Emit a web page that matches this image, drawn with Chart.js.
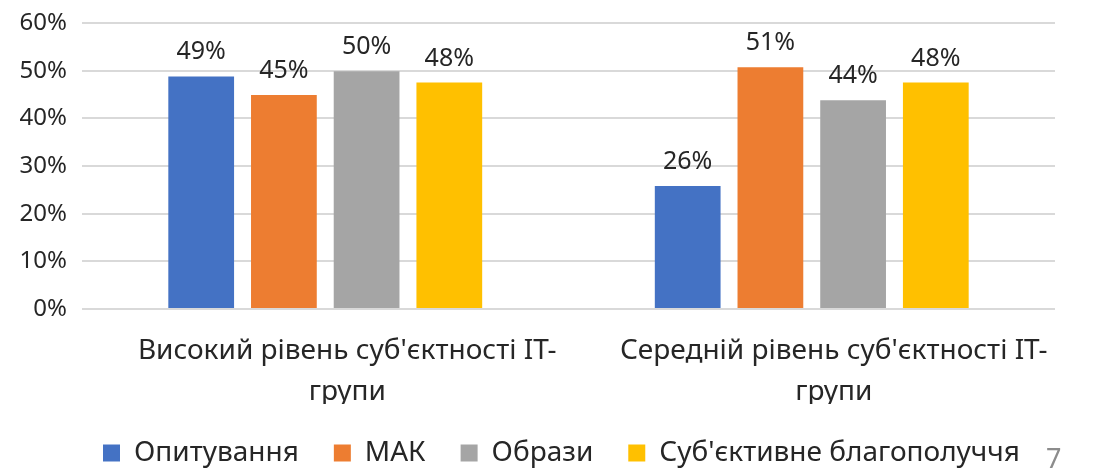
<!DOCTYPE html>
<html>
<head>
<meta charset="utf-8">
<script src="https://cdn.jsdelivr.net/npm/chart.js@4"></script>
<style>
  html, body { margin: 0; padding: 0; background: #fff; }
  #wrap { position: relative; width: 1105px; height: 469px; overflow: hidden; }
  #pageNum { position: absolute; left: 1046px; top: 439px; font: 27px "Noto Sans", sans-serif; color: #8c8c8c; }
</style>
</head>
<body>
<div id="wrap">
  <canvas id="myChart" width="1105" height="469"></canvas>
  <span id="pageNum">7</span>
</div>
<script>
const categories = [
  ["Високий рівень суб'єктності IT-", "групи"],
  ["Середній рівень суб'єктності IT-", "групи"],
];
const seriesNames = ["Опитування", "МАК", "Образи", "Суб'єктивне благополуччя"];
const surveyValues = [48.8, 25.8];
const makValues = [44.9, 50.7];
const imageValues = [49.9, 43.8];
const wellbeingValues = [47.5, 47.5];
const colors = ["#4472C4", "#ED7D31", "#A5A5A5", "#FFC000"];

const FONT = '"Noto Sans", sans-serif';

// values above the bars
const barLabels = {
  id: 'barLabels',
  afterDatasetsDraw(chart) {
    const ctx = chart.ctx;
    ctx.save();
    ctx.font = '25px ' + FONT;
    ctx.fillStyle = '#262626';
    ctx.textAlign = 'center';
    ctx.textBaseline = 'alphabetic';
    chart.data.datasets.forEach((ds, i) => {
      chart.getDatasetMeta(i).data.forEach((bar, j) => {
        ctx.fillText(Math.round(ds.data[j]) + '%', bar.x, bar.y - 17);
      });
    });
    ctx.restore();
  }
};

const allValues = [surveyValues, makValues, imageValues, wellbeingValues];

new Chart(document.getElementById('myChart').getContext('2d'), {
  type: 'bar',
  data: {
    labels: categories,
    datasets: seriesNames.map((name, i) => ({
      label: name,
      data: allValues[i],
      backgroundColor: colors[i],
      categoryPercentage: 0.68,
      barPercentage: 0.795,
    })),
  },
  options: {
    responsive: false,
    animation: false,
    layout: { padding: { top: 23, right: 50, left: 0, bottom: -8 } },
    scales: {
      y: {
        min: 0,
        max: 60,
        ticks: {
          stepSize: 10,
          padding: 15,
          color: '#262626',
          font: { size: 24, family: FONT },
          callback: (v) => v + '%',
        },
        grid: { color: '#d9d9d9', lineWidth: 2, drawTicks: false },
        border: { display: false },
        afterFit(scale) {
          scale.width = 82;
          scale.paddingTop = 0;
          scale.paddingBottom = 0;
        },
      },
      x: {
        ticks: {
          color: '#262626',
          padding: 22,
          labelOffset: 22,
          font: { size: 28, family: FONT, lineHeight: 1.45 },
          maxRotation: 0,
        },
        grid: { display: false, drawTicks: false },
        border: { display: false },
        afterFit(scale) { scale.height = 95; },
      },
    },
    plugins: {
      legend: {
        position: 'bottom',
        align: 'end',
        labels: {
          color: '#262626',
          font: { size: 28, family: FONT },
          boxWidth: 17,
          boxHeight: 17,
          padding: 35,
        },
      },
      tooltip: { enabled: false },
    },
  },
  plugins: [barLabels],
});
</script>
</body>
</html>
